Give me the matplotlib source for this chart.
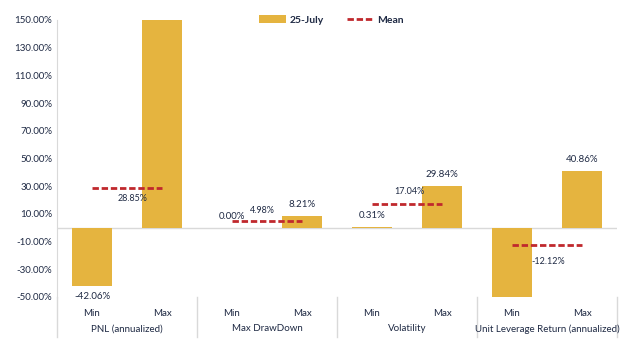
import matplotlib.pyplot as plt
from matplotlib.patches import Patch
from matplotlib.lines import Line2D
import matplotlib.transforms as mtransforms

plt.rcParams['font.family'] = ['Lato', 'DejaVu Sans']

# data
groups = ["PNL (annualized)", "Max DrawDown", "Volatility", "Unit Leverage Return (annualized)"]
stats = ["Min", "Max"]
min_vals = [-42.06, 0.00, 0.31, -55.0]
max_vals = [165.0, 8.21, 29.84, 40.86]
means = [28.85, 4.98, 17.04, -12.12]
mean_label_off = [(4, -8), (-3, 7.5), (2, 9), (1, -12)]   # points, where the mean label sits

bar_color = "#E5B43F"
mean_color = "#C0282D"
text_color = "#1F2A44"

fig = plt.figure(figsize=(6.31, 3.5), dpi=100)
ax = fig.add_axes([57 / 631, 53 / 350, 560 / 631, 277 / 350])

ymin, ymax = -50, 150

xs, vals, ticklabels = [], [], []
for i in range(len(groups)):
    xs += [2 * i, 2 * i + 1]
    vals += [min_vals[i], max_vals[i]]
    ticklabels += stats

ax.bar(xs, vals, width=0.58, color=bar_color, zorder=2)

# bar value labels (only when visible)
for x, v in zip(xs, vals):
    if v > ymax or v < ymin:
        continue
    if v >= 0:
        ax.annotate(f"{v:.2f}%", (x, v), xytext=(0, 5), textcoords="offset points",
                    ha="center", va="bottom", fontsize=7, color=text_color)
    else:
        ax.annotate(f"{v:.2f}%", (x, v), xytext=(0, -4), textcoords="offset points",
                    ha="center", va="top", fontsize=7, color=text_color)

# mean lines
for i, m in enumerate(means):
    ax.plot([2 * i, 2 * i + 1], [m, m], color=mean_color, lw=2,
            dashes=(2.3, 1.0), zorder=3)
    ax.annotate(f"{m:.2f}%", (2 * i + 0.5, m), xytext=mean_label_off[i], textcoords="offset points",
                ha="center", va="center", fontsize=6.5, color=text_color)

ax.axhline(0, color="#D9D9D9", lw=1, zorder=1)

ax.set_xlim(-0.5, 7.5)
ax.set_ylim(ymin, ymax)
ax.set_yticks(range(-50, 151, 20))
ax.set_yticklabels([f"{t:.2f}%" for t in range(-50, 151, 20)], fontsize=7, color=text_color)
ax.set_xticks(xs)
ax.set_xticklabels(ticklabels, fontsize=7, color=text_color)
ax.tick_params(axis="both", length=0)
ax.tick_params(axis="x", pad=9)

for s in ["top", "right", "bottom"]:
    ax.spines[s].set_visible(False)
ax.spines["left"].set_color("#D9D9D9")

# group labels and separators
trans = mtransforms.blended_transform_factory(ax.transData, ax.transAxes)
for i, g in enumerate(groups):
    ax.text(2 * i + 0.5, -0.115, g, transform=trans, ha="center", va="center",
            fontsize=7, color=text_color)
for b in range(len(groups) + 1):
    ax.plot([2 * b - 0.5, 2 * b - 0.5], [0, -0.145], transform=trans, color="#D9D9D9",
            lw=1, clip_on=False)

handles = [Patch(facecolor=bar_color, edgecolor="none"),
           Line2D([0], [0], color=mean_color, lw=2, dashes=(2.3, 1.0))]
leg = fig.legend(handles, ["25-July", "Mean"], loc="center", bbox_to_anchor=(0.525, 0.943),
                 ncol=2, frameon=False, fontsize=7.5, handlelength=2.6, columnspacing=2.2,
                 handletextpad=0.3)
for t in leg.get_texts():
    t.set_fontweight("bold")
    t.set_color(text_color)

fig.savefig("out.png", dpi=100)
